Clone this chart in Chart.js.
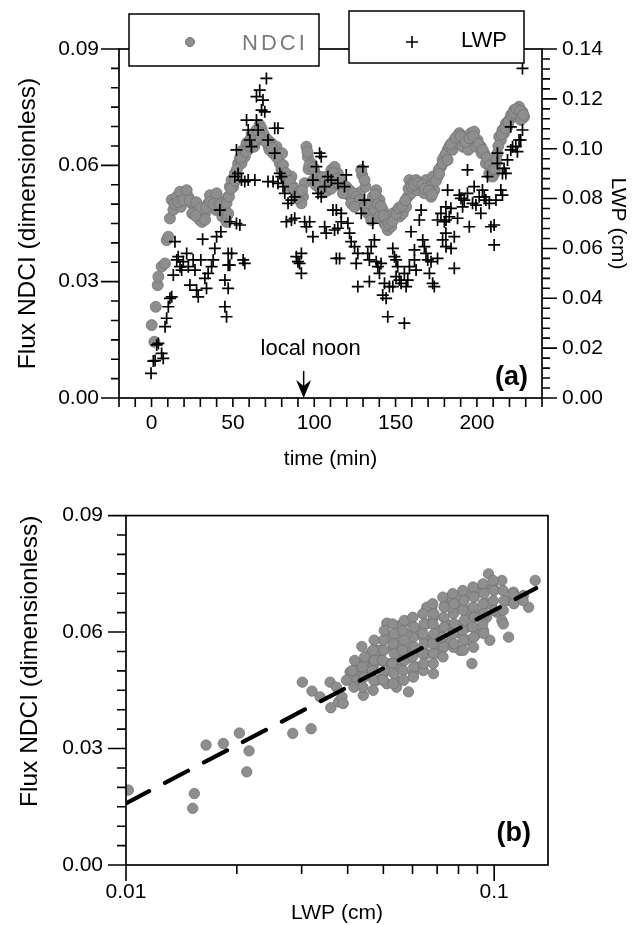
<!DOCTYPE html>
<html><head><meta charset="utf-8">
<script src="https://cdn.jsdelivr.net/npm/chart.js@4.4.1/dist/chart.umd.min.js"></script>
<style>
html,body{margin:0;padding:0;background:#fff;}
#wrap{position:relative;width:642px;height:925px;overflow:hidden;background:#fff;}
canvas{position:absolute;left:0;}
#ca{top:0;} #cb{top:480px;}
</style></head><body>
<div id="wrap">
<canvas id="ca" width="642" height="480"></canvas>
<canvas id="cb" width="642" height="465"></canvas>
</div>
<script>
// ---------- DATA ----------
// Panel (a): NDCI (left axis) vs time
const ndciTime = [0.1,1.7,2.6,3.8,4.2,6.2,8.3,9.3,10.3,11.3,12.4,15.4,18.5,20.5,22.6,24.6,26.7,28.7,30.8,32.8,34.8,36.9,38.9,41.0,43.0,45.1,47.1,48.1,
13.4,18,25,29.7,31,39.5,43.5,46.1,17.5,21.6,35.9,40,
14,16.5,19.5,23.5,27.5,30,33.5,36,38,42,44,46.5,27,33,
46.1,47.1,49.2,51.2,53.2,54.3,56.3,58.4,60.4,62.4,64.5,66.5,67.6,69.6,71.6,73.7,75.7,77.7,78.8,79.8,81.9,83.9,86.0,86.9,89.0,91.0,93.1,94.1,95.2,96.1,98.2,100.2,102.3,104.4,106.4,108.4,110.5,112.5,114.5,
47.6,50.2,55.3,57.3,59.4,63,65.5,68.5,72,74.7,76.8,80.3,80.8,84.9,92.1,96.5,99,101,103.5,105.5,108,110.5,113,
49,51.5,52.5,55,58,60,61.5,63.5,66,67,70.5,72.5,74,77,82.5,85,87.5,89.5,90.5,92.5,
95.8,97,99.5,101.5,103,105,107,109.5,111.5,114,115.5,118.5,120.5,123,126.5,128,129.5,131.5,133.5,
116.6,119.7,121.7,123.7,125.8,128.9,130.9,127.8,130.9,132.9,135.0,138.1,140.1,142.1,143.2,145.2,147.3,149.3,151.3,153.4,155.4,157.5,158.5,160.5,162.6,165.7,168.7,171.8,173.8,175.8,177.9,179.9,182.0,
117.6,122.7,124.8,134,136,137,140.1,145.2,148.3,152.4,154.4,156.5,159.5,163.6,167.7,169.7,173,176.5,178.9,
137.5,139,141,142.5,144,146,148,150.5,152,154,156,158,159.8,161.5,164,166.5,168,170.5,172.5,174.8,176.8,179,181,
183,186.1,189.2,192.2,194.2,196.3,198.3,200.4,202.4,204.5,206.5,208.6,210.6,211.6,212.6,213.7,215.7,217.8,219.8,222.9,225.9,228.0,229.0,
182,185,188.1,191.2,194.7,197.3,199.4,202.9,205.5,207.6,209.6,214.7,216.7,218.8,221.8,223.9,227,
184,187,190,193,195.5,197.8,201,203.5,206,208,210,211.2,212,213.2,215.2,217.2,219.3,221,222.4,224.5,226.5,228.5];
const ndciValue = [0.0188,0.0145,0.0235,0.0291,0.0313,0.0339,0.0347,0.0407,0.0416,0.0463,0.0511,0.0519,0.0515,0.0528,0.0519,0.0502,0.0493,0.0485,0.0468,0.0476,0.0502,0.0519,0.0519,0.0511,0.0493,0.0485,0.0519,0.0545,
0.0485,0.0493,0.0476,0.0459,0.0454,0.0485,0.0468,0.0454,0.0532,0.0536,0.0523,0.0528,
0.0500,0.0505,0.0510,0.0510,0.0505,0.0490,0.0490,0.0505,0.0500,0.0500,0.0480,0.0470,0.0470,0.0460,
0.0502,0.0476,0.0562,0.0579,0.0605,0.0618,0.0640,0.0657,0.0665,0.0674,0.0691,0.0704,0.0695,0.0674,0.0665,0.0657,0.0640,0.0631,0.0605,0.0588,0.0571,0.0562,0.0571,0.0545,0.0528,0.0515,0.0519,0.0554,0.0648,0.0622,0.0605,0.0584,0.0571,0.0562,0.0554,0.0571,0.0588,0.0596,0.0579,
0.0519,0.0545,0.0605,0.0622,0.0640,0.0648,0.0665,0.0683,0.0648,0.0631,0.0648,0.0631,0.0601,0.0545,0.0502,0.0590,0.0560,0.0549,0.0540,0.0530,0.0535,0.0540,0.0555,
0.0540,0.0560,0.0590,0.0620,0.0635,0.0650,0.0680,0.0665,0.0685,0.0670,0.0660,0.0640,0.0645,0.0620,0.0580,0.0560,0.0540,0.0515,0.0530,0.0535,
0.0635,0.0600,0.0595,0.0570,0.0555,0.0570,0.0560,0.0565,0.0580,0.0565,0.0550,0.0540,0.0525,0.0515,0.0505,0.0530,0.0575,0.0545,0.0490,
0.0562,0.0545,0.0536,0.0528,0.0519,0.0588,0.0562,0.0511,0.0493,0.0476,0.0459,0.0536,0.0511,0.0485,0.0450,0.0433,0.0442,0.0468,0.0485,0.0493,0.0502,0.0519,0.0562,0.0554,0.0562,0.0545,0.0562,0.0519,0.0536,0.0571,0.0596,0.0622,0.0640,
0.0528,0.0502,0.0493,0.0502,0.0519,0.0485,0.0468,0.0459,0.0476,0.0468,0.0476,0.0493,0.0528,0.0536,0.0528,0.0545,0.0571,0.0588,0.0614,
0.0525,0.0500,0.0495,0.0470,0.0445,0.0450,0.0455,0.0475,0.0490,0.0495,0.0510,0.0540,0.0545,0.0550,0.0555,0.0550,0.0540,0.0535,0.0525,0.0560,0.0578,0.0605,0.0630,
0.0648,0.0665,0.0683,0.0674,0.0665,0.0683,0.0687,0.0665,0.0648,0.0631,0.0614,0.0588,0.0579,0.0605,0.0631,0.0674,0.0691,0.0708,0.0717,0.0743,0.0751,0.0738,0.0725,
0.0614,0.0640,0.0657,0.0648,0.0640,0.0665,0.0648,0.0631,0.0605,0.0579,0.0571,0.0665,0.0683,0.0700,0.0725,0.0734,0.0717,
0.0655,0.0672,0.0675,0.0660,0.0670,0.0675,0.0655,0.0640,0.0620,0.0600,0.0590,0.0590,0.0615,0.0650,0.0680,0.0695,0.0710,0.0730,0.0735,0.0745,0.0740,0.0730];

// Panel (a): LWP (right axis) vs time
const lwpTime = [-0.3,1.1,2.2,3.2,4.2,6.2,7.2,8.3,9.3,10.3,11.3,12.4,13.4,14.4,15.5,16.4,17.5,18.5,19.5,21.6,22.6,23.6,25.6,26.7,27.7,28.7,30.3,31.4,32.8,33.8,34.8,36.9,37.9,38.9,40.0,42.6,42.0,45.1,45.1,47.1,47.1,
46.1,47.1,48.1,49.2,48.1,52.2,54.3,56.3,57.3,52.2,53.2,51.2,55.3,57.3,59.4,63.5,58.4,59.4,60.4,61.4,64.5,65.5,64.5,66.5,67.6,69.6,70.6,68.5,71.6,75.7,77.7,75.7,71.6,74.7,77.7,78.8,79.8,80.8,81.9,83.9,86.0,88.0,82.9,86.0,88.0,94.1,97.2,95.2,99.2,89.0,90.0,92.1,92.1,91.0,103.3,104.3,101.3,99.2,102.3,104.3,106.4,108.4,110.5,111.5,106.4,107.4,112.5,113.6,114.5,
113.6,116.6,118.6,119.7,120.7,114.5,116.6,121.7,122.7,124.8,126.8,115.6,125.8,128.9,130.9,129.9,132.9,133.9,136.0,137.0,135,138.1,139.1,140.1,141.1,133.9,126.8,142.1,144.2,143.2,145.2,155.4,146.2,148.3,149.3,150.3,151.3,148.3,150.3,152.4,153.4,155.4,156.5,157.5,158.5,159.5,161.6,161.6,162.6,164.6,165.7,166.7,167.7,168.7,169.8,171.8,170.8,172.8,173.8,175.8,175.8,177.9,180,178.9,180.9,182,180.9,
184,181,183,188.1,186.1,184.1,181,186.1,189.2,190.2,192.2,194.2,191.2,195.3,194.2,197.3,198.3,199.4,201.4,202.4,203.4,204.5,205.5,206.5,207.6,208.6,210.6,210.6,211.7,214.7,215.7,215.7,217.8,212.6,212.6,216.7,218.8,220.8,221.9,223.9,224.9,225.9,226.9,220.8,228.0,228.0];
const lwpValue = [0.0099,0.0148,0.0150,0.0213,0.0219,0.0179,0.0159,0.0286,0.0320,0.0366,0.0400,0.0406,0.0493,0.0627,0.0554,0.0567,0.0527,0.0513,0.0547,0.0580,0.0527,0.0453,0.0554,0.0513,0.0433,0.0406,0.0554,0.0637,0.0480,0.0440,0.0500,0.0527,0.0554,0.0600,0.0647,0.0667,0.0754,0.0473,0.0366,0.0580,0.0533,
0.0326,0.0440,0.0533,0.0580,0.0707,0.0700,0.0694,0.0554,0.0540,0.0995,0.0901,0.0888,0.0874,0.0868,0.0874,0.0874,0.1115,0.1075,0.1035,0.1008,0.1115,0.1075,0.1209,0.1235,0.1155,0.1148,0.1282,0.1195,0.1035,0.1082,0.1082,0.0982,0.0868,0.0868,0.0861,0.0901,0.0888,0.0848,0.0821,0.0781,0.0794,0.0807,0.0707,0.0714,0.0721,0.0707,0.0707,0.0687,0.0647,0.0567,0.0547,0.0580,0.0500,0.0540,0.0982,0.0968,0.0928,0.0874,0.0821,0.0807,0.0848,0.0888,0.0874,0.0754,0.0687,0.0661,0.0674,0.0560,0.0861,
0.0754,0.0741,0.0848,0.0895,0.0701,0.0681,0.0707,0.0661,0.0627,0.0607,0.0580,0.0560,0.0540,0.0741,0.0794,0.0928,0.0580,0.0554,0.0701,0.0634,0.0607,0.0547,0.0527,0.0500,0.0540,0.0467,0.0447,0.0413,0.0400,0.0460,0.0326,0.0300,0.0447,0.0600,0.0567,0.0554,0.0527,0.0447,0.0487,0.0473,0.0460,0.0500,0.0447,0.0473,0.0527,0.0667,0.0554,0.0594,0.0513,0.0714,0.0754,0.0634,0.0607,0.0580,0.0554,0.0547,0.0500,0.0460,0.0447,0.0560,0.0714,0.0741,0.0707,0.0634,0.0661,0.0834,0.0767,
0.0761,0.0714,0.0727,0.0721,0.0647,0.0600,0.0607,0.0520,0.0814,0.0801,0.0794,0.0915,0.0767,0.0687,0.0821,0.0781,0.0848,0.0774,0.0807,0.0741,0.0834,0.0807,0.0794,0.0888,0.0781,0.0687,0.0694,0.0614,0.0794,0.0834,0.0814,0.0901,0.0901,0.0982,0.0941,0.0921,0.0955,0.0995,0.1008,0.1008,0.0988,0.1035,0.1035,0.1088,0.1075,0.1322];

// Panel (b): NDCI vs LWP scatter
const scatterLwp = [0.01015,0.01533,0.01518,0.01650,0.01838,0.02032,0.02159,0.02128,0.02838,0.03183,0.03013,0.03200,0.03366,0.03583,0.0360,0.03776,
0.0386,0.0389,0.0406,0.0437,0.0441,0.0424,0.0455,0.0469,0.0490,0.0511,0.0521,0.0532,0.0555,0.0555,0.0585,0.0590,0.0567,0.0603,0.0630,0.0656,0.0670,0.0684,0.0677,0.0699,0.0714,0.0736,0.0760,0.0792,0.0808,0.0743,0.0775,0.0825,0.0843,0.0870,0.0808,0.0879,0.0897,0.0935,0.0973,0.0863,0.0897,0.0935,0.0965,0.0993,0.1049,0.0983,0.1017,0.1049,0.1059,0.1094,0.1083,0.1128,0.1177,0.1200,0.1240,0.1292,
0.0414,0.0432,0.0460,0.0480,0.0500,0.0511,0.0543,0.0521,0.0555,0.0590,0.0615,0.0642,0.0603,0.0642,0.0630,0.0578,0.0543,0.0500,0.0480,0.0460,0.0441,0.0714,0.0743,0.0775,0.0699,0.0729,0.0775,0.0760,0.0843,0.0879,0.0916,0.0954,0.0954,0.0808,0.0843,0.0684,0.0656,0.0590,0.0656,0.0543,0.0490,0.0424,0.0397,0.0373,0.0543,
0.0418,0.0412,0.0416,0.0445,0.0438,0.0443,0.0440,0.0472,0.0468,0.0473,0.0467,0.0471,0.0469,0.0503,0.0502,0.0497,0.0504,0.0499,
0.0530,0.0535,0.0531,0.0536,0.0529,0.0534,0.0532,0.0570,0.0565,0.0569,0.0564,0.0571,0.0566,0.0568,0.0601,0.0606,0.0607,0.0600,0.0605,0.0603,
0.0640,0.0645,0.0641,0.0646,0.0639,0.0644,0.0681,0.0686,0.0682,0.0687,0.0680,0.0685,0.0683,0.0725,0.0731,0.0732,0.0724,0.0729,0.0726,
0.0772,0.0779,0.0780,0.0773,0.0778,0.0822,0.0828,0.0823,0.0829,0.0821,0.0827,0.0824,0.0876,0.0882,0.0877,0.0883,0.0875,0.0881,
0.0932,0.0938,0.0933,0.0939,0.0931,0.0937,0.0993,0.0999,0.0994,0.1000,0.1057,0.1063,0.1058,0.1125,0.1131,0.1198];
const scatterNdci = [0.0193,0.0184,0.0146,0.0309,0.0313,0.0340,0.0294,0.0240,0.0339,0.0351,0.0471,0.0448,0.0433,0.0471,0.0405,0.0420,
0.0433,0.0416,0.0497,0.0563,0.0437,0.0510,0.0531,0.0510,0.0553,0.0623,0.0587,0.0561,0.0617,0.0510,0.0446,0.0626,0.0570,0.0587,0.0553,0.0621,0.0579,0.0493,0.0664,0.0604,0.0544,0.0673,0.0690,0.0690,0.0664,0.0621,0.0604,0.0621,0.0579,0.0519,0.0553,0.0561,0.0596,0.0604,0.0579,0.0699,0.0707,0.0716,0.0750,0.0716,0.0733,0.0673,0.0651,0.0630,0.0621,0.0587,0.0681,0.0703,0.0686,0.0694,0.0664,0.0733,
0.0493,0.0484,0.0493,0.0476,0.0493,0.0467,0.0476,0.0519,0.0536,0.0536,0.0510,0.0501,0.0493,0.0587,0.0604,0.0596,0.0587,0.0579,0.0553,0.0544,0.0519,0.0604,0.0579,0.0561,0.0570,0.0638,0.0647,0.0664,0.0656,0.0638,0.0647,0.0673,0.0638,0.0596,0.0613,0.0638,0.0664,0.0561,0.0544,0.0527,0.0527,0.0476,0.0476,0.0458,0.0458,
0.0527,0.0501,0.0458,0.0536,0.0510,0.0484,0.0458,0.0579,0.0553,0.0527,0.0501,0.0476,0.0450,0.0604,0.0553,0.0527,0.0501,0.0476,
0.0621,0.0596,0.0570,0.0544,0.0519,0.0493,0.0467,0.0630,0.0604,0.0579,0.0553,0.0527,0.0501,0.0476,0.0638,0.0613,0.0561,0.0536,0.0510,0.0484,
0.0647,0.0621,0.0596,0.0570,0.0544,0.0519,0.0673,0.0647,0.0621,0.0596,0.0570,0.0544,0.0519,0.0690,0.0664,0.0613,0.0587,0.0561,0.0536,
0.0699,0.0673,0.0621,0.0596,0.0570,0.0707,0.0681,0.0656,0.0630,0.0604,0.0579,0.0553,0.0716,0.0690,0.0664,0.0638,0.0613,0.0587,
0.0724,0.0699,0.0673,0.0647,0.0621,0.0596,0.0733,0.0707,0.0681,0.0656,0.0707,0.0681,0.0656,0.0699,0.0673,0.0681];

// Panel (b): fitted line end points
const fitLwp = [0.01, 0.13];
const fitNdci = [0.0159, 0.0713];

// Tick labels
const timeTicks = [0, 50, 100, 150, 200];
const ndciTicks = [0, 0.03, 0.06, 0.09];
const lwpTicks = [0, 0.02, 0.04, 0.06, 0.08, 0.10, 0.12, 0.14];
const logTicks = [0.01, 0.1];
const noonTime = 93.5;

// ---------- helpers ----------
const FONT = "'Liberation Sans', Arial, Helvetica, sans-serif";
Chart.defaults.font.family = FONT;
Chart.defaults.color = '#000';
const GREY = '#8e8e8e';
const GREY_EDGE = '#747474';

function seq(a, b, step) {
  const n = Math.round((b - a) / step);
  return Array.from({length: n + 1}, (_, i) => +(a + i * step).toFixed(6));
}
function isMult(v, m) { const r = v / m; return Math.abs(r - Math.round(r)) < 1e-6; }
function pts(xs, ys) { return xs.map((x, i) => ({x: x, y: ys[i]})); }

const axisDecor = {
  id: 'axisDecor',
  afterDraw(chart, args, opts) {
    const ctx = chart.ctx, ca = chart.chartArea;
    ctx.save();
    ctx.strokeStyle = '#000';
    ctx.lineWidth = 1.7;
    ctx.strokeRect(ca.left, ca.top, ca.right - ca.left, ca.bottom - ca.top);
    ctx.lineWidth = 1.6;
    for (const s of opts.specs) {
      const sc = chart.scales[s.axis];
      ctx.beginPath();
      for (const v of s.values) {
        const len = s.isMajor(v) ? s.majorLen : s.minorLen;
        const p = sc.getPixelForValue(v);
        if (s.side === 'left') { ctx.moveTo(ca.left, p); ctx.lineTo(ca.left - len, p); }
        else if (s.side === 'right') { ctx.moveTo(ca.right, p); ctx.lineTo(ca.right + len, p); }
        else { ctx.moveTo(p, ca.bottom); ctx.lineTo(p, ca.bottom + len); }
      }
      ctx.stroke();
    }
    ctx.restore();
  }
};

const labelsA = {
  id: 'labelsA',
  afterDraw(chart) {
    const ctx = chart.ctx, ca = chart.chartArea;
    ctx.save();
    // legend boxes straddling the top frame line
    ctx.lineWidth = 1.5; ctx.strokeStyle = '#000'; ctx.fillStyle = '#fff';
    ctx.fillRect(129, 14, 190, 52); ctx.strokeRect(129, 14, 190, 52);
    ctx.fillRect(349, 11, 175, 52); ctx.strokeRect(349, 11, 175, 52);
    ctx.fillStyle = GREY; ctx.strokeStyle = GREY_EDGE; ctx.lineWidth = 1;
    ctx.beginPath(); ctx.arc(190, 42, 4.5, 0, Math.PI * 2); ctx.fill(); ctx.stroke();
    ctx.font = '22px ' + FONT;
    ctx.textBaseline = 'alphabetic';
    ctx.textAlign = 'left';
    ctx.fillStyle = '#7a7a7a';
    if ('letterSpacing' in ctx) ctx.letterSpacing = '3px';
    ctx.fillText('NDCI', 242, 50);
    if ('letterSpacing' in ctx) ctx.letterSpacing = '0px';
    ctx.strokeStyle = '#000'; ctx.lineWidth = 1.6;
    ctx.beginPath(); ctx.moveTo(406, 42); ctx.lineTo(418, 42); ctx.moveTo(412, 36); ctx.lineTo(412, 48); ctx.stroke();
    ctx.fillStyle = '#000';
    ctx.font = '22px ' + FONT;
    ctx.fillText('LWP', 461, 47);
    // local noon arrow
    const xs = chart.scales.x;
    const ax = xs.getPixelForValue(noonTime);
    ctx.font = '22px ' + FONT;
    ctx.textAlign = 'center';
    ctx.fillText('local noon', ax + 7, 355);
    ctx.lineWidth = 1.5;
    ctx.beginPath(); ctx.moveTo(ax, 371); ctx.lineTo(ax, 388); ctx.stroke();
    ctx.beginPath();
    ctx.moveTo(ax, ca.bottom); ctx.lineTo(ax - 7.5, 380); ctx.lineTo(ax, 386); ctx.lineTo(ax + 7.5, 380); ctx.closePath();
    ctx.fill();
    // panel tag
    ctx.font = 'bold 27px ' + FONT;
    ctx.textAlign = 'right';
    ctx.fillText('(a)', ca.right - 14, 385);
    ctx.restore();
  }
};

const labelsB = {
  id: 'labelsB',
  afterDraw(chart) {
    const ctx = chart.ctx, ca = chart.chartArea;
    ctx.save();
    ctx.fillStyle = '#000';
    ctx.font = 'bold 27px ' + FONT;
    ctx.textAlign = 'right';
    ctx.textBaseline = 'alphabetic';
    ctx.fillText('(b)', ca.right - 17, ca.bottom - 24);
    ctx.restore();
  }
};

const tickFont = {size: 21, family: FONT};
const titleFontH = {size: 21, family: FONT};
const titleFontV = {size: 24.5, family: FONT};
const titleFontR = {size: 21, family: FONT};
const noGrid = {display: false, drawTicks: false};

// ---------- Panel (a) ----------
new Chart(document.getElementById('ca'), {
  type: 'scatter',
  data: {
    datasets: [
      {label: 'LWP', data: pts(lwpTime, lwpValue), yAxisID: 'y1', pointStyle: 'cross',
       pointRadius: 6, borderColor: '#000', borderWidth: 1.7, order: 0},
      {label: 'NDCI', data: pts(ndciTime, ndciValue), yAxisID: 'y', pointStyle: 'circle',
       pointRadius: 5.5, backgroundColor: GREY, borderColor: GREY_EDGE, borderWidth: 0.8, order: 1}
    ]
  },
  options: {
    responsive: false, animation: false, devicePixelRatio: 1,
    layout: {padding: {top: 49, left: 0, right: 0, bottom: 0}},
    plugins: {legend: {display: false}, tooltip: {enabled: false},
      axisDecor: {specs: [
        {axis: 'y', side: 'left', values: seq(0, 0.09, 0.005), isMajor: v => isMult(v, 0.03), majorLen: 18, minorLen: 8},
        {axis: 'y1', side: 'right', values: seq(0, 0.14, 0.004), isMajor: v => isMult(v, 0.02), majorLen: 15, minorLen: 8},
        {axis: 'x', side: 'bottom', values: seq(-20, 240, 10), isMajor: v => false, majorLen: 9, minorLen: 9}
      ]}
    },
    scales: {
      x: {type: 'linear', position: 'bottom', min: -20, max: 240,
        grid: noGrid, border: {display: false},
        afterBuildTicks: s => { s.ticks = timeTicks.map(v => ({value: v})); },
        afterFit: s => { s.height = 82; },
        ticks: {font: tickFont, padding: 13, maxRotation: 0, autoSkip: false, callback: v => String(v)},
        title: {display: true, text: 'time (min)', font: titleFontH, padding: {top: 0, bottom: 8}}},
      y: {type: 'linear', position: 'left', min: 0, max: 0.09,
        grid: noGrid, border: {display: false},
        afterBuildTicks: s => { s.ticks = ndciTicks.map(v => ({value: v})); },
        afterFit: s => { s.width = 119; },
        ticks: {font: tickFont, padding: 20, autoSkip: false, callback: v => v.toFixed(2)},
        title: {display: true, text: 'Flux NDCI (dimensionless)', font: titleFontV, padding: {top: 14, bottom: 0}}},
      y1: {type: 'linear', position: 'right', min: 0, max: 0.14,
        grid: noGrid, border: {display: false},
        afterBuildTicks: s => { s.ticks = lwpTicks.map(v => ({value: v})); },
        afterFit: s => { s.width = 100; },
        ticks: {font: tickFont, padding: 20, autoSkip: false, callback: v => v.toFixed(2)},
        title: {display: true, text: 'LWP (cm)', font: titleFontR, padding: {top: 12, bottom: 0}}}
    }
  },
  plugins: [axisDecor, labelsA]
});

// ---------- Panel (b) ----------
new Chart(document.getElementById('cb'), {
  type: 'scatter',
  data: {
    datasets: [
      {label: 'fit', type: 'line', data: pts(fitLwp, fitNdci), borderColor: '#000', borderWidth: 4.2,
       borderDash: [26, 18], borderCapStyle: 'round', pointRadius: 0, fill: false, tension: 0, order: 0},
      {label: 'NDCI', data: pts(scatterLwp, scatterNdci), pointStyle: 'circle', pointRadius: 5.2,
       backgroundColor: GREY, borderColor: GREY_EDGE, borderWidth: 0.8, order: 1}
    ]
  },
  options: {
    responsive: false, animation: false, devicePixelRatio: 1,
    layout: {padding: {top: 34, left: 0, right: 94, bottom: 0}},
    plugins: {legend: {display: false}, tooltip: {enabled: false},
      axisDecor: {specs: [
        {axis: 'y', side: 'left', values: seq(0, 0.09, 0.005), isMajor: v => isMult(v, 0.03), majorLen: 18, minorLen: 9},
        {axis: 'x', side: 'bottom', values: seq(0.01, 0.1, 0.01), isMajor: v => (v === 0.01 || v === 0.1), majorLen: 16, minorLen: 9}
      ]}
    },
    scales: {
      x: {type: 'logarithmic', position: 'bottom', min: 0.01, max: 0.14,
        grid: noGrid, border: {display: false},
        afterBuildTicks: s => { s.ticks = logTicks.map(v => ({value: v})); },
        afterFit: s => { s.height = 80; },
        ticks: {font: tickFont, padding: 15, maxRotation: 0, autoSkip: false, callback: v => String(v)},
        title: {display: true, text: 'LWP (cm)', font: titleFontH, padding: {top: 0, bottom: 19}}},
      y: {type: 'linear', position: 'left', min: 0, max: 0.09,
        grid: noGrid, border: {display: false},
        afterBuildTicks: s => { s.ticks = ndciTicks.map(v => ({value: v})); },
        afterFit: s => { s.width = 126; },
        ticks: {font: tickFont, padding: 23, autoSkip: false, callback: v => v.toFixed(2)},
        title: {display: true, text: 'Flux NDCI (dimensionless)', font: titleFontV, align: 'end', padding: {top: 16, bottom: 0}}}
    }
  },
  plugins: [axisDecor, labelsB]
});
</script>
</body></html>
